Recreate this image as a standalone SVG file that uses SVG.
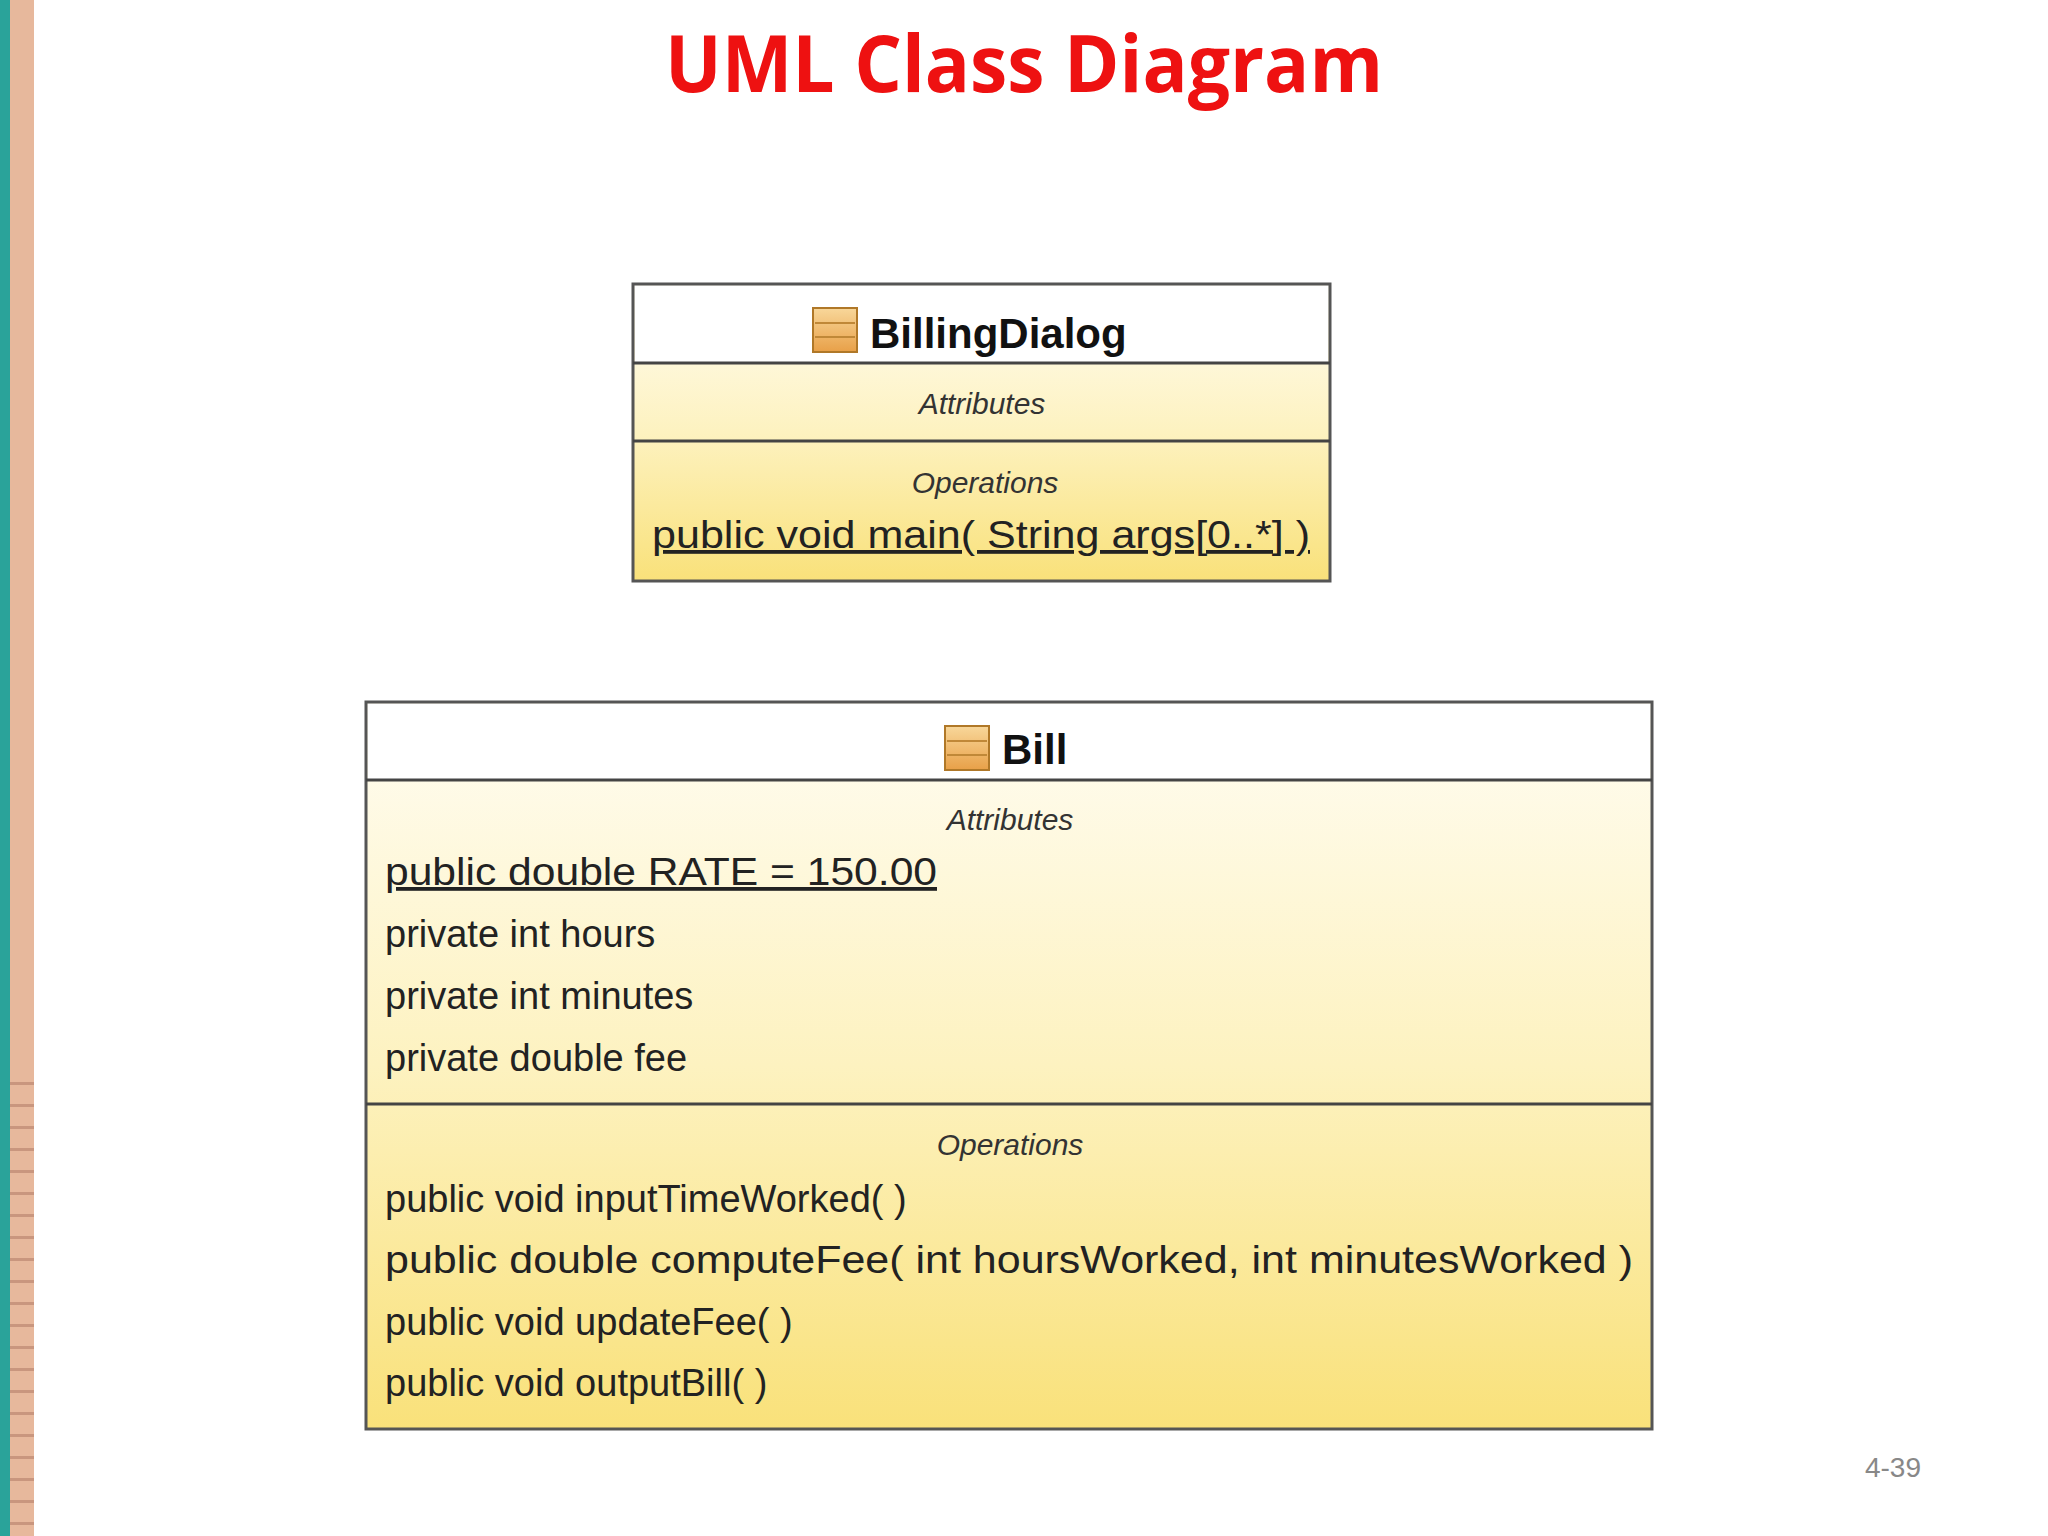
<svg xmlns="http://www.w3.org/2000/svg" width="2048" height="1536" viewBox="0 0 2048 1536">
<defs>
<linearGradient id="g" x1="0" y1="0" x2="0" y2="1"><stop offset="0" stop-color="#fffdf3"/><stop offset="0.5" stop-color="#fdf2c0"/><stop offset="1" stop-color="#f9e17a"/></linearGradient>
<linearGradient id="ic" x1="0" y1="0" x2="0" y2="1"><stop offset="0" stop-color="#f8d79a"/><stop offset="1" stop-color="#e8a048"/></linearGradient>
<pattern id="st" x="8" y="1064" width="30" height="22" patternUnits="userSpaceOnUse"><rect width="30" height="22" fill="#e7b89c"/><rect y="18" width="30" height="3" fill="#c9967e"/></pattern>
<style>
.box{stroke:#555;stroke-width:3}
.div{stroke:#444;stroke-width:3}
.t{font-family:"Liberation Sans",Arial,sans-serif;fill:#222}
.h{font-weight:bold;font-size:42px;fill:#111}
.s{font-style:italic;font-size:30px;text-anchor:middle;fill:#333}
.m{font-size:38px}
.u{text-decoration:underline}
</style>
</defs>
<rect width="2048" height="1536" fill="#fff"/>
<rect x="0" y="0" width="10" height="1536" fill="#2aa39a"/>
<rect x="10" y="0" width="24" height="1064" fill="#e7b89c"/>
<rect x="10" y="1064" width="24" height="472" fill="url(#st)"/>
<text x="1024" y="92" text-anchor="middle" font-family="'Open Sans','Liberation Sans',sans-serif" font-weight="bold" font-size="78" fill="#ee1111" textLength="718" lengthAdjust="spacingAndGlyphs">UML Class Diagram</text>
<g id="BillingDialog">
<rect x="633" y="284" width="697" height="297" fill="url(#g)" class="box"/>
<rect x="635" y="286" width="693" height="77" fill="#fff"/>
<line x1="633" y1="363" x2="1330" y2="363" class="div"/>
<line x1="633" y1="441" x2="1330" y2="441" class="div"/>
<rect x="813" y="308" width="44" height="44" fill="url(#ic)" stroke="#b07828" stroke-width="2"/>
<line x1="815" y1="323" x2="855" y2="323" stroke="#c08838" stroke-width="2"/><line x1="815" y1="337" x2="855" y2="337" stroke="#c08838" stroke-width="2"/>
<text x="870" y="348" class="t h">BillingDialog</text>
<text x="982" y="414" class="t s">Attributes</text>
<text x="985" y="493" class="t s">Operations</text>
<text x="652" y="548" class="t m u" textLength="658" lengthAdjust="spacingAndGlyphs">public void  main( String args[0..*] )</text>
</g>
<g id="Bill">
<rect x="366" y="702" width="1286" height="727" fill="url(#g)" class="box"/>
<rect x="368" y="704" width="1282" height="76" fill="#fff"/>
<line x1="366" y1="780" x2="1652" y2="780" class="div"/>
<line x1="366" y1="1104" x2="1652" y2="1104" class="div"/>
<rect x="945" y="726" width="44" height="44" fill="url(#ic)" stroke="#b07828" stroke-width="2"/>
<line x1="947" y1="741" x2="987" y2="741" stroke="#c08838" stroke-width="2"/><line x1="947" y1="755" x2="987" y2="755" stroke="#c08838" stroke-width="2"/>
<text x="1002" y="764" class="t h">Bill</text>
<text x="1010" y="830" class="t s">Attributes</text>
<text x="385" y="885" class="t m u" textLength="552" lengthAdjust="spacingAndGlyphs">public double RATE = 150.00</text>
<text x="385" y="947" class="t m">private int hours</text>
<text x="385" y="1009" class="t m">private int minutes</text>
<text x="385" y="1071" class="t m">private double fee</text>
<text x="1010" y="1155" class="t s">Operations</text>
<text x="385" y="1212" class="t m">public void  inputTimeWorked(  )</text>
<text x="385" y="1273" class="t m" textLength="1248" lengthAdjust="spacingAndGlyphs">public double  computeFee( int hoursWorked, int minutesWorked )</text>
<text x="385" y="1335" class="t m">public void  updateFee(  )</text>
<text x="385" y="1396" class="t m">public void  outputBill(  )</text>
</g>
<g id="connectors"/>
<text x="1893" y="1477" font-family="'Liberation Sans',Arial,sans-serif" font-size="28" fill="#888" text-anchor="middle">4-39</text>
</svg>
